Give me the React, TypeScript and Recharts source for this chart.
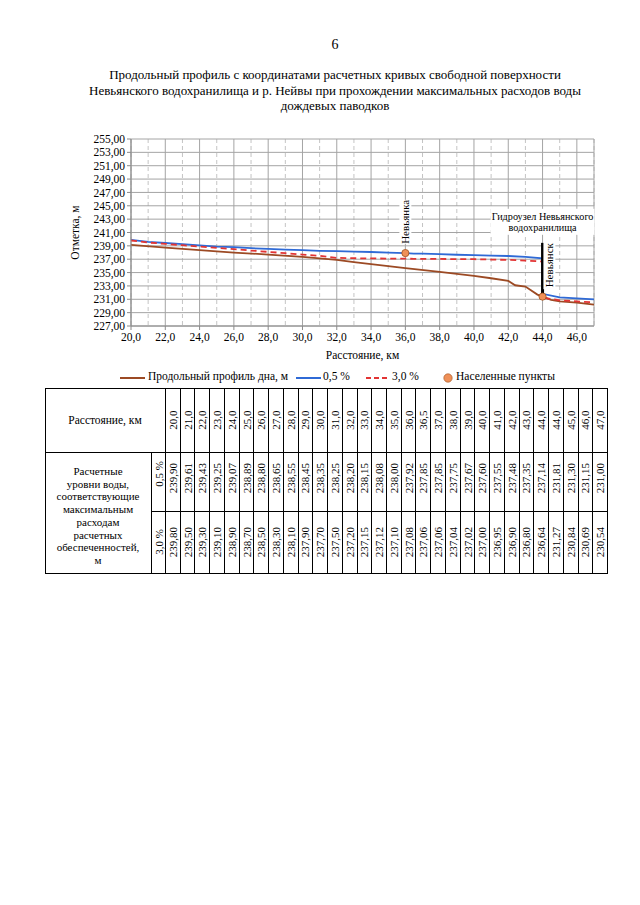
import React from 'react';
import { ComposedChart, Line, Scatter, XAxis, YAxis, CartesianGrid, ReferenceDot } from 'recharts';

// ---- data ----
const distanceKm = [20, 21, 22, 23, 24, 25, 26, 27, 28, 29, 30, 31, 32, 33, 34, 35, 36, 36.5, 37, 38, 39, 40, 41, 42, 43, 44, 44, 45, 46, 47];
const level05 = [239.9, 239.61, 239.43, 239.25, 239.07, 238.89, 238.8, 238.65, 238.55, 238.45, 238.35, 238.25, 238.2, 238.15, 238.08, 238.0, 237.92, 237.85, 237.85, 237.75, 237.67, 237.6, 237.55, 237.48, 237.35, 237.14, 231.81, 231.3, 231.15, 231.0];
const level30 = [239.8, 239.5, 239.3, 239.1, 238.9, 238.7, 238.5, 238.3, 238.1, 237.9, 237.7, 237.5, 237.2, 237.15, 237.12, 237.1, 237.08, 237.06, 237.06, 237.04, 237.02, 237.0, 236.95, 236.9, 236.8, 236.64, 231.27, 230.84, 230.69, 230.54];
const bedKm = [20, 22, 24, 26, 28, 30, 32, 33, 34, 36, 38, 40, 41, 42, 42.4, 43, 43.3, 43.7, 44, 44.5, 45, 46, 47];
const bedLevel = [239.15, 238.75, 238.35, 238.0, 237.7, 237.35, 236.9, 236.55, 236.25, 235.65, 235.1, 234.5, 234.15, 233.75, 233.1, 232.9, 232.4, 231.7, 231.4, 230.9, 230.7, 230.5, 230.2];
const settlementNames = ['Невьянка', 'Невьянск'];
const settlementKm = [36, 44];
const settlementLevel = [237.92, 231.4];
const damKm = 44;
const damLevels = [231.4, 239.45];
const xTicks = [20, 22, 24, 26, 28, 30, 32, 34, 36, 38, 40, 42, 44, 46];
const xMinorTicks = [21, 23, 25, 27, 29, 31, 33, 35, 37, 39, 41, 43, 45, 47];
const yTicks = [227, 229, 231, 233, 235, 237, 239, 241, 243, 245, 247, 249, 251, 253, 255];

const serif = '"Liberation Serif", "Times New Roman", serif';
const fmt2 = (v: number) => v.toFixed(2).replace('.', ',');
const fmt1 = (v: number) => v.toFixed(1).replace('.', ',');

const C_BED = '#9c4a24';
const C_05 = '#2f6ad6';
const C_30 = '#e23434';
const C_DOT = '#ef9058';

const bedData = bedKm.map((x, i) => ({ x, y: bedLevel[i] }));
const data05 = distanceKm.map((x, i) => ({ x, y: level05[i] }));
const data30 = distanceKm.map((x, i) => ({ x, y: level30[i] }));
const damData = damLevels.map((y) => ({ x: damKm, y }));
const settlementData = settlementKm.map((x, i) => ({ x, y: settlementLevel[i], name: settlementNames[i] }));

const vLabel = (text: string, len: number) => (props: any) => {
  const vb = props.viewBox || {};
  const cx = (vb.x || 0) + (vb.width || 0) / 2;
  const cy = (vb.y || 0) + (vb.height || 0) / 2;
  return (
    <g transform={`rotate(-90, ${cx}, ${cy})`}>
      <rect x={cx - len / 2 - 2} y={cy - 6} width={len + 4} height={12} fill="#fff" />
      <text x={cx} y={cy} textAnchor="middle" dominantBaseline="central" fontSize={11} fontFamily={serif} fill="#000">{text}</text>
    </g>
  );
};

const damLabel = (props: any) => {
  const vb = props.viewBox || {};
  const cx = (vb.x || 0) + (vb.width || 0) / 2;
  const cy = (vb.y || 0) + (vb.height || 0) / 2;
  return (
    <g>
      <rect x={cx - 52} y={cy - 13} width={104} height={26} fill="#fff" />
      <text x={cx} y={cy - 5.5} textAnchor="middle" dominantBaseline="central" fontSize={10.2} fontFamily={serif} fill="#000">Гидроузел Невьянского</text>
      <text x={cx} y={cy + 6} textAnchor="middle" dominantBaseline="central" fontSize={10.2} fontFamily={serif} fill="#000">водохранилища</text>
    </g>
  );
};

const yLabel = (props: any) => {
  const vb = props.viewBox || {};
  const x = (vb.x || 0) + 4;
  const y = (vb.y || 0) + (vb.height || 0) / 2;
  return (
    <text x={x} y={y} transform={`rotate(-90, ${x}, ${y})`} textAnchor="middle" dominantBaseline="central" fontSize={11.5} fontFamily={serif} fill="#000">Отметка, м</text>
  );
};

const DotShape = (props: any) => (
  <circle cx={props.cx} cy={props.cy} r={3.6} fill={C_DOT} stroke="#a0501c" strokeWidth={0.8} />
);

const tickStyle = { fontSize: 11.5, fontFamily: serif, fill: '#000' };

function Chart() {
  return (
    <ComposedChart width={640} height={400} margin={{ top: 139, right: 46, bottom: 49, left: 71 }}>
      <XAxis xAxisId="minor" type="number" dataKey="x" domain={[20, 47]} ticks={xMinorTicks} interval={0} hide allowDataOverflow />
      <CartesianGrid xAxisId="minor" horizontal={false} stroke="#c4c4c4" strokeDasharray="4 3" />
      <CartesianGrid stroke="#a4a4a4" />
      <XAxis
        type="number"
        dataKey="x"
        domain={[20, 47]}
        ticks={xTicks}
        interval={0}
        allowDataOverflow
        tickFormatter={fmt1}
        tick={tickStyle}
        tickSize={4}
        tickMargin={3}
        height={25}
        stroke="#8a8a8a"
        label={{ value: 'Расстояние, км', position: 'bottom', offset: 0, style: { fontSize: 11.5, fontFamily: serif, fill: '#000' } }}
      />
      <YAxis
        type="number"
        dataKey="y"
        domain={[227, 255]}
        ticks={yTicks}
        interval={0}
        allowDataOverflow
        tickFormatter={fmt2}
        tick={tickStyle}
        tickSize={4}
        tickMargin={2}
        width={60}
        stroke="#8a8a8a"
        label={yLabel}
      />
      <Line data={bedData} dataKey="y" stroke={C_BED} strokeWidth={1.8} dot={false} isAnimationActive={false} />
      <Line data={data05} dataKey="y" stroke={C_05} strokeWidth={1.8} dot={false} isAnimationActive={false} />
      <Line data={data30} dataKey="y" stroke={C_30} strokeWidth={1.8} strokeDasharray="6 4" dot={false} isAnimationActive={false} />
      <ReferenceDot x={36} y={242.6} r={0} fill="none" stroke="none" label={vLabel('Невьянка', 40)} />
      <ReferenceDot x={44.4} y={236.1} r={0} fill="none" stroke="none" label={vLabel('Невьянск', 44)} />
      <ReferenceDot x={44} y={242.6} r={0} fill="none" stroke="none" label={damLabel} />
      <Line data={damData} dataKey="y" stroke="#000" strokeWidth={3} dot={false} isAnimationActive={false} />
      <Scatter data={settlementData} dataKey="y" shape={DotShape} isAnimationActive={false} />
    </ComposedChart>
  );
}

function LegendBox() {
  const item = (left: number, sym: React.ReactNode, text: string, textLeft: number) => (
    <>
      <div style={{ position: 'absolute', left, top: 370 }}>{sym}</div>
      <div style={{ position: 'absolute', left: textLeft, top: 369, fontSize: 11.5, lineHeight: '14px', whiteSpace: 'nowrap' }}>{text}</div>
    </>
  );
  return (
    <>
      {item(120, <svg width={26} height={12}><line x1={0} y1={6} x2={25} y2={6} stroke={C_BED} strokeWidth={2} /></svg>, 'Продольный профиль дна, м', 148)}
      {item(296, <svg width={26} height={12}><line x1={0} y1={6} x2={25} y2={6} stroke={C_05} strokeWidth={2} /></svg>, '0,5 %', 323)}
      {item(366, <svg width={26} height={12}><line x1={0} y1={6} x2={24} y2={6} stroke={C_30} strokeWidth={2} strokeDasharray="5 3" /></svg>, '3,0 %', 392)}
      {item(442, <svg width={12} height={12}><circle cx={6} cy={6} r={4.2} fill={C_DOT} stroke="#a0501c" strokeWidth={0.6} /></svg>, 'Населенные пункты', 456)}
    </>
  );
}

function VText({ cx, cy, text }: { cx: number; cy: number; text: string }) {
  return (
    <div style={{ position: 'absolute', left: cx, top: cy, transform: 'translate(-50%, -50%) rotate(-90deg)', whiteSpace: 'nowrap', fontSize: 11, lineHeight: '12px' }}>{text}</div>
  );
}

function Table() {
  const L = 45, R = 607, TOP = 388, HB = 452, R1 = 511, BOT = 573, C0 = 165, SUB = 151;
  const n = distanceKm.length;
  const cw = (R - C0) / n;
  const line = (x: number, y: number, w: number, h: number, key: string) => (
    <div key={key} style={{ position: 'absolute', left: x, top: y, width: w, height: h, background: '#000' }} />
  );
  const lines: React.ReactNode[] = [];
  lines.push(line(L, TOP, R - L + 1, 1, 't'));
  lines.push(line(L, BOT, R - L + 1, 1, 'b'));
  lines.push(line(L, HB, R - L + 1, 1, 'h1'));
  lines.push(line(SUB, R1, R - SUB + 1, 1, 'h2'));
  lines.push(line(L, TOP, 1, BOT - TOP + 1, 'l'));
  lines.push(line(SUB, HB, 1, BOT - HB, 's'));
  for (let i = 0; i <= n; i++) lines.push(line(Math.round(C0 + i * cw), TOP, 1, BOT - TOP + 1, 'v' + i));
  return (
    <>
      {lines}
      <div style={{ position: 'absolute', left: L, top: TOP, width: C0 - L, height: HB - TOP, display: 'flex', alignItems: 'center', justifyContent: 'center', fontSize: 11.5 }}>Расстояние, км</div>
      <div style={{ position: 'absolute', left: L, top: 465, width: SUB - L, textAlign: 'center', fontSize: 11, lineHeight: '12.7px' }}>
        Расчетные<br />уровни воды,<br />соответствующие<br />максимальным<br />расходам<br />расчетных<br />обеспеченностей,<br />м
      </div>
      <VText cx={(SUB + C0) / 2 + 0.5} cy={(HB + R1) / 2 - 8} text="0,5 %" />
      <VText cx={(SUB + C0) / 2 + 0.5} cy={(R1 + BOT) / 2} text="3,0 %" />
      {distanceKm.map((d, i) => (
        <React.Fragment key={i}>
          <VText cx={C0 + (i + 0.5) * cw + 0.5} cy={(TOP + HB) / 2} text={fmt1(d)} />
          <VText cx={C0 + (i + 0.5) * cw + 0.5} cy={(HB + R1) / 2 - 4} text={fmt2(level05[i])} />
          <VText cx={C0 + (i + 0.5) * cw + 0.5} cy={(R1 + BOT) / 2} text={fmt2(level30[i])} />
        </React.Fragment>
      ))}
    </>
  );
}

export default function App() {
  return (
    <div style={{ position: 'absolute', left: 0, top: 0, width: 640, height: 905, background: '#fff', fontFamily: serif, color: '#000', overflow: 'hidden' }}>
      <div style={{ position: 'absolute', top: 37, left: 0, width: 670, textAlign: 'center', fontSize: 14 }}>6</div>
      <div style={{ position: 'absolute', top: 67, left: 0, width: 670, textAlign: 'center', fontSize: 13, lineHeight: '15.5px' }}>
        Продольный профиль с координатами расчетных кривых свободной поверхности<br />
        Невьянского водохранилища и р. Нейвы при прохождении максимальных расходов воды<br />
        дождевых паводков
      </div>
      <div style={{ position: 'absolute', left: 0, top: 0 }}>
        <Chart />
      </div>
      <LegendBox />
      <Table />
    </div>
  );
}
